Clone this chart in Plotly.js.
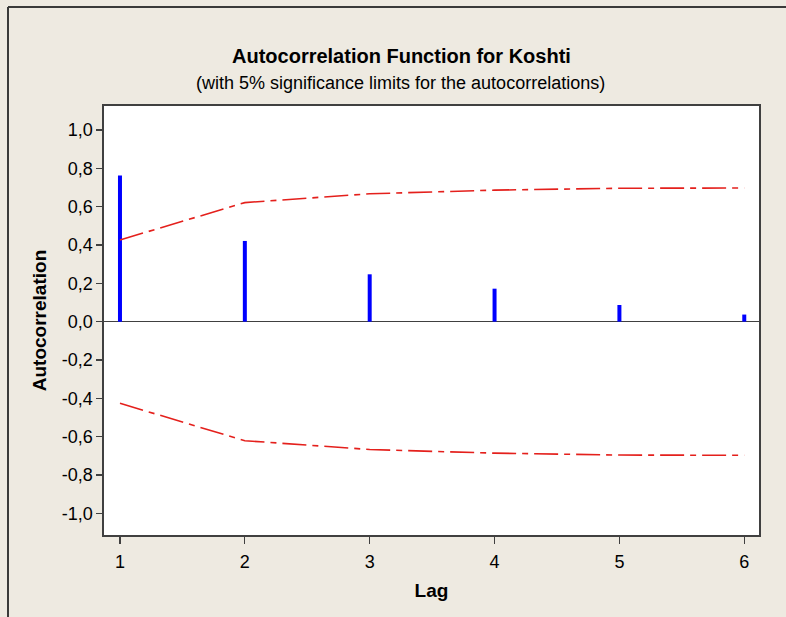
<!DOCTYPE html>
<html>
<head>
<meta charset="utf-8">
<script src="https://cdn.plot.ly/plotly-3.0.1.min.js"></script>
<style>
  html, body { margin: 0; padding: 0; background: #EEEAE1; }
  #chart { width: 786px; height: 617px; }
</style>
</head>
<body>
<div id="chart"></div>
<script>
// Data
const lags = [1, 2, 3, 4, 5, 6];
const acf = [0.762, 0.421, 0.247, 0.172, 0.087, 0.037];
const upperLimit = [0.426, 0.621, 0.667, 0.686, 0.696, 0.697];
const lowerLimit = [-0.426, -0.621, -0.667, -0.686, -0.696, -0.697];
const yTickVals = [-1.0, -0.8, -0.6, -0.4, -0.2, 0.0, 0.2, 0.4, 0.6, 0.8, 1.0];
const yTickText = ["-1,0", "-0,8", "-0,6", "-0,4", "-0,2", "0,0", "0,2", "0,4", "0,6", "0,8", "1,0"];
const xTickVals = [1, 2, 3, 4, 5, 6];
const xTickText = ["1", "2", "3", "4", "5", "6"];

const font = "Arial, 'Liberation Sans', sans-serif";
const red = "#E4201C";
const dash = "24px,6px,6px,6px";

const traces = [
  {
    type: "bar",
    x: lags,
    y: acf,
    width: 0.032,
    marker: { color: "#0000FF", line: { width: 0 } },
    hoverinfo: "x+y"
  },
  {
    type: "scatter",
    mode: "lines",
    x: lags,
    y: upperLimit,
    line: { color: red, width: 1.6, dash: dash }
  },
  {
    type: "scatter",
    mode: "lines",
    x: lags,
    y: lowerLimit,
    line: { color: red, width: 1.6, dash: dash }
  }
];

const layout = {
  width: 786,
  height: 617,
  paper_bgcolor: "#EEEAE1",
  plot_bgcolor: "#FFFFFF",
  showlegend: false,
  margin: { l: 104, r: 27, t: 106, b: 82, pad: 0 },
  font: { family: font, color: "#000000", size: 18 },
  xaxis: {
    range: [0.872, 6.118],
    tickvals: xTickVals,
    ticktext: xTickText,
    ticks: "outside",
    ticklen: 7,
    tickwidth: 1.3,
    tickcolor: "#404040",
    ticklabelstandoff: 3,
    showline: true,
    linecolor: "#404040",
    linewidth: 1.6,
    mirror: true,
    showgrid: false,
    zeroline: false,
    tickfont: { family: font, size: 18, color: "#000" },
    title: { text: "<b>Lag</b>", font: { family: font, size: 19, color: "#000" }, standoff: 12 }
  },
  yaxis: {
    range: [-1.113, 1.125],
    tickvals: yTickVals,
    ticktext: yTickText,
    ticks: "outside",
    ticklen: 6,
    tickwidth: 1.3,
    tickcolor: "#404040",
    showline: true,
    linecolor: "#404040",
    linewidth: 1.6,
    mirror: true,
    showgrid: false,
    zeroline: true,
    zerolinecolor: "#404040",
    zerolinewidth: 1.6,
    tickfont: { family: font, size: 18, color: "#000" },
    title: { text: "<b>Autocorrelation</b>", font: { family: font, size: 19, color: "#000" }, standoff: 10 }
  },
  annotations: [
    {
      xref: "paper", yref: "paper",
      x: (401 - 104) / 655, y: (535 - 56) / 429,
      xanchor: "center", yanchor: "middle",
      text: "<b>Autocorrelation Function for Koshti</b>",
      showarrow: false,
      font: { family: font, size: 20, color: "#000" }
    },
    {
      xref: "paper", yref: "paper",
      x: (400 - 104) / 655, y: (535 - 83) / 429,
      xanchor: "center", yanchor: "middle",
      text: "(with 5% significance limits for the autocorrelations)",
      showarrow: false,
      font: { family: font, size: 18, color: "#000" }
    }
  ],
  shapes: [
    {
      type: "line", xref: "paper", yref: "paper",
      x0: (8 - 104) / 655, x1: (790 - 104) / 655,
      y0: (535 - 7) / 429, y1: (535 - 7) / 429,
      line: { color: "#3A3A3A", width: 2 }
    },
    {
      type: "line", xref: "paper", yref: "paper",
      x0: (8 - 104) / 655, x1: (8 - 104) / 655,
      y0: (535 - 7) / 429, y1: (535 - 620) / 429,
      line: { color: "#3A3A3A", width: 2 }
    }
  ]
};

Plotly.newPlot("chart", traces, layout, { displayModeBar: false, staticPlot: true });
</script>
</body>
</html>
